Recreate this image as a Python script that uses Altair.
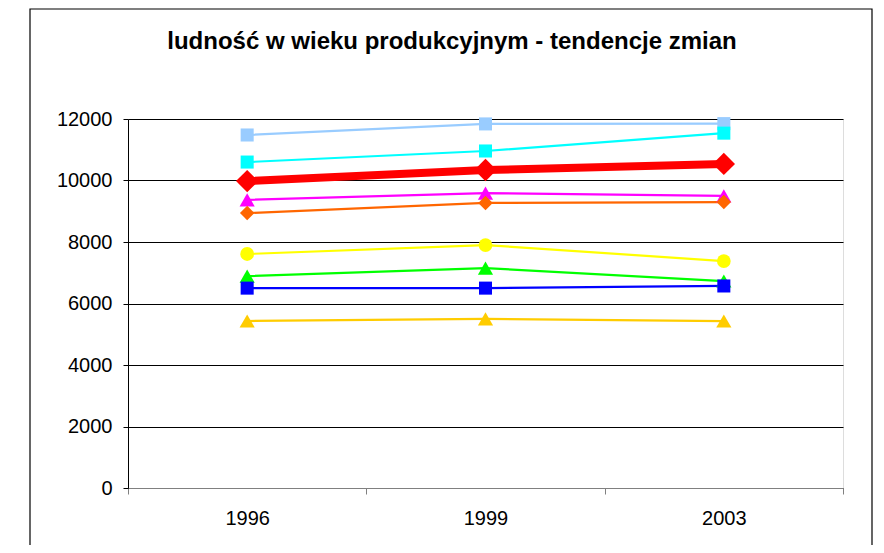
import altair as alt
import pandas as pd

years = ["1996", "1999", "2003"]
series = ["Seria 1", "Seria 2", "Seria 3", "Seria 4", "Seria 5",
          "Seria 6", "Seria 7", "Seria 8", "Seria 9"]
values = {
    "Seria 1": [11480, 11840, 11850],   # light blue squares
    "Seria 2": [10600, 10960, 11540],   # cyan squares
    "Seria 3": [9980, 10340, 10540],    # red diamonds (thick)
    "Seria 4": [9370, 9590, 9500],      # magenta triangles
    "Seria 5": [8940, 9270, 9300],      # orange diamonds
    "Seria 6": [7610, 7900, 7380],      # yellow circles
    "Seria 7": [6890, 7150, 6730],      # green triangles
    "Seria 8": [6500, 6500, 6570],      # blue squares
    "Seria 9": [5430, 5500, 5430],      # gold triangles
}
colors = ["#99CCFF", "#00FFFF", "#FF0000", "#FF00FF", "#FF6600",
          "#FFFF00", "#00FF00", "#0000FF", "#FFCC00"]
shapes = ["square", "square", "diamond", "triangle-up", "diamond",
          "circle", "triangle-up", "square", "triangle-up"]
marker_sizes = [170, 170, 500, 230, 210, 190, 230, 170, 230]
title_text = "ludność w wieku produkcyjnym - tendencje zmian"

rows = []
for s in series:
    for y, v in zip(years, values[s]):
        rows.append({"rok": y, "seria": s, "wartosc": v})
df = pd.DataFrame(rows)

W, H = 715, 369

xenc = alt.X("rok:N", sort=years,
             scale=alt.Scale(paddingInner=0, paddingOuter=0),
             axis=alt.Axis(title=None, labelAngle=0, tickBand="extent",
                           labelFont="Liberation Sans", labelFontSize=20,
                           labelColor="#000", labelPadding=14,
                           domainColor="#808080", tickColor="#808080",
                           tickSize=6, grid=False))
yenc = alt.Y("wartosc:Q", scale=alt.Scale(domain=[0, 12000], nice=False),
             axis=alt.Axis(title=None, values=[0, 2000, 4000, 6000, 8000, 10000, 12000],
                           format="d",
                           labelFont="Liberation Sans", labelFontSize=20,
                           labelColor="#000", labelPadding=11,
                           domainColor="#000", tickColor="#000", tickSize=5,
                           grid=True, gridColor="#000", gridWidth=1))
cenc = alt.Color("seria:N", sort=series,
                 scale=alt.Scale(domain=series, range=colors), legend=None)

base = alt.Chart(df)

frame = alt.Chart(pd.DataFrame({"a": [0]})).mark_rect(
    fill=None, stroke="#000", strokeWidth=1.2, clip=False
).encode(x=alt.value(30 - 128), x2=alt.value(872 - 128),
         y=alt.value(9 - 119), y2=alt.value(560 - 119))

title = alt.Chart(pd.DataFrame({"t": [title_text]})).mark_text(
    font="Liberation Sans", fontSize=24, fontWeight="bold", color="#000",
    align="center", baseline="middle"
).encode(x=alt.value(452 - 128), y=alt.value(42 - 119), text="t:N")

thin = base.transform_filter(alt.datum.seria != "Seria 3")
thick = base.transform_filter(alt.datum.seria == "Seria 3")

lines_thin = thin.mark_line(strokeWidth=2.2).encode(
    x=xenc, y=yenc, color=cenc, detail="seria:N")
lines_thick = thick.mark_line(strokeWidth=8).encode(
    x=xenc, y=yenc, color=cenc)

pts = base.mark_point(filled=True, opacity=1).encode(
    x=xenc, y=yenc, color=cenc,
    shape=alt.Shape("seria:N", sort=series,
                    scale=alt.Scale(domain=series, range=shapes), legend=None),
    size=alt.Size("seria:N", sort=series,
                  scale=alt.Scale(type="ordinal", domain=series, range=marker_sizes),
                  legend=None))

chart = alt.layer(frame, title, lines_thin, lines_thick, pts).properties(
    width=W, height=H,
    autosize=alt.AutoSizeParams(type="none"),
    padding={"left": 120, "top": 111, "right": 33, "bottom": 57},
).configure_view(stroke=None).configure(background="white")

chart.save("out.html", embed_options={"renderer": "svg", "actions": False})
